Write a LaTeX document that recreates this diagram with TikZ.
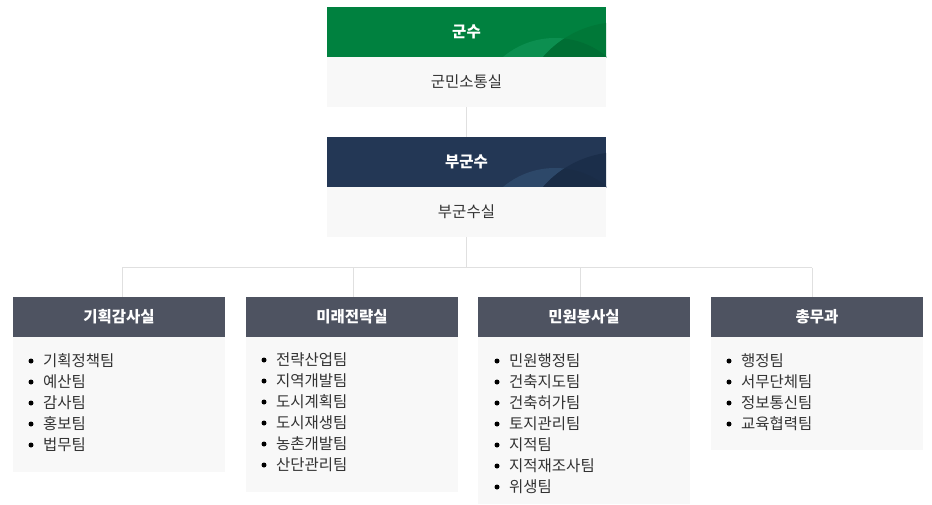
\documentclass[tikz,border=0pt]{standalone}
\usepackage{fontspec}
\setmainfont{Noto Sans CJK KR}
\definecolor{topgreen}{HTML}{00813F}
\definecolor{greenlight}{HTML}{0C8F50}
\definecolor{greendark}{HTML}{007838}
\definecolor{topnavy}{HTML}{233755}
\definecolor{navylight}{HTML}{2D4869}
\definecolor{navydark}{HTML}{1B2E4A}
\definecolor{headgray}{HTML}{4E5361}
\definecolor{bodybg}{HTML}{F8F8F8}
\definecolor{linegray}{HTML}{E0E0E0}
\definecolor{txtdark}{HTML}{333333}
\tikzset{
  topbox/.style={minimum width=279pt, minimum height=50pt, inner sep=0pt, text=white, font=\fontsize{15.5}{17}\selectfont\bfseries},
  subbox/.style={minimum width=279pt, minimum height=50pt, inner sep=0pt, fill=bodybg, text=txtdark, font=\fontsize{15.5}{17}\selectfont},
  colhead/.style={minimum width=212pt, minimum height=40pt, inner sep=0pt, fill=headgray, text=white, font=\fontsize{15.5}{17}\selectfont\bfseries},
  item/.style={anchor=west, inner sep=0pt, text=txtdark, font=\fontsize{15.5}{17}\selectfont},
  conn/.style={draw=linegray, line width=1pt},
  dot/.style={fill=black}
}
\begin{document}
\begin{tikzpicture}[x=1pt,y=-1pt]
\useasboundingbox (0,0) rectangle (932,504);
% top: 군수
\node[topbox, fill=topgreen] (gunsu) at (466.5,32) {};
\begin{scope}
  \clip (327,7) rectangle (606,57);
  \fill[greenlight] (555,118.7) circle (80.7);
  \fill[greendark] (620,124) circle (102);
  \begin{scope}
    \clip (620,124) circle (102);
    \fill[greendark!92!black] (555,118.7) circle (80.7);
  \end{scope}
\end{scope}
\node[topbox] (gunsutxt) at (gunsu.center) {군수};
\node[subbox] (sotong) at (466.5,82) {군민소통실};
% 부군수
\node[topbox, fill=topnavy] (bugunsu) at (466.5,162) {};
\begin{scope}
  \clip (327,137) rectangle (606,187);
  \fill[navylight] (555,248.7) circle (80.7);
  \fill[navydark] (620,254) circle (102);
  \begin{scope}
    \clip (620,254) circle (102);
    \fill[navydark!95!black] (555,248.7) circle (80.7);
  \end{scope}
\end{scope}
\node[topbox] (bugunsutxt) at (bugunsu.center) {부군수};
\node[subbox] (bugunsusil) at (466.5,212) {부군수실};
% connectors
\coordinate (hub) at (466.5,267.5);
\coordinate (b1) at (122,267.5);
\coordinate (b2) at (353.5,267.5);
\coordinate (b3) at (580.5,267.5);
\coordinate (b4) at (812,267.5);
\draw[conn] (sotong.south) -- (bugunsu.north);
\draw[conn] (bugunsusil.south) -- (hub);
\draw[conn] (b1) -- (b4);
% column bodies
\fill[bodybg] (13,337) rectangle (225,472);
\fill[bodybg] (246,337) rectangle (458,492);
\fill[bodybg] (478,337) rectangle (690,504);
\fill[bodybg] (711,337) rectangle (923,450);
% column headers
\node[colhead] (h1) at (119,317) {기획감사실};
\node[colhead] (h2) at (352,317) {미래전략실};
\node[colhead] (h3) at (584,317) {민원봉사실};
\node[colhead] (h4) at (817,317) {총무과};
\draw[conn] (b1) -- (b1 |- h1.north);
\draw[conn] (b2) -- (b2 |- h2.north);
\draw[conn] (b3) -- (b3 |- h3.north);
\draw[conn] (b4) -- (b4 |- h4.north);
% items
\foreach \t [count=\i] in {기획정책팀,예산팀,감사팀,홍보팀,법무팀}{
  \fill[dot] (31,361+21*\i-21) circle (2.5);
  \node[item] (a\i) at (43,361+21*\i-21) {\t};
}
\foreach \t [count=\i] in {전략산업팀,지역개발팀,도시계획팀,도시재생팀,농촌개발팀,산단관리팀}{
  \fill[dot] (264,360+21*\i-21) circle (2.5);
  \node[item] (m\i) at (276,360+21*\i-21) {\t};
}
\foreach \t [count=\i] in {민원행정팀,건축지도팀,건축허가팀,토지관리팀,지적팀,지적재조사팀,위생팀}{
  \fill[dot] (497,361+21*\i-21) circle (2.5);
  \node[item] (p\i) at (509,361+21*\i-21) {\t};
}
\foreach \t [count=\i] in {행정팀,서무단체팀,정보통신팀,교육협력팀}{
  \fill[dot] (729,361+21*\i-21) circle (2.5);
  \node[item] (g\i) at (741,361+21*\i-21) {\t};
}
\end{tikzpicture}
\end{document}
